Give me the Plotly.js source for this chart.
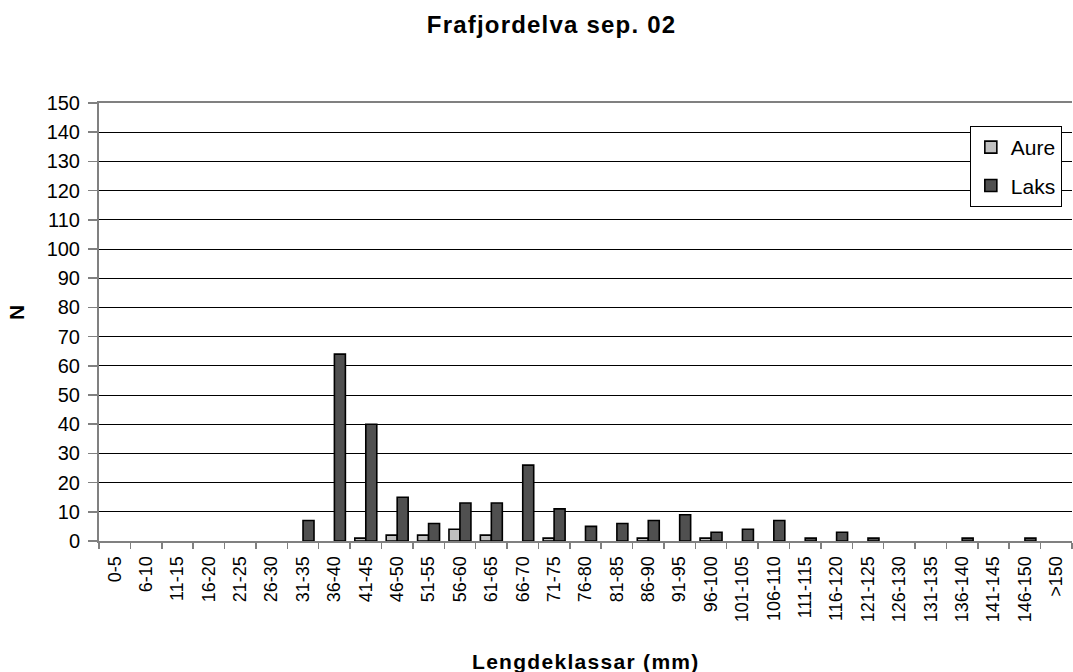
<!DOCTYPE html>
<html>
<head>
<meta charset="utf-8">
<script src="https://cdn.plot.ly/plotly-3.0.1.min.js"></script>
<style>
html,body{margin:0;padding:0;background:#fff;}
#chart{width:1073px;height:672px;}
.gtitle{letter-spacing:1.2px;}
.annotation-text{letter-spacing:1.3px;}
</style>
</head>
<body>
<div id="chart"></div>
<script>
var categories = ["0-5","6-10","11-15","16-20","21-25","26-30","31-35","36-40","41-45","46-50","51-55","56-60","61-65","66-70","71-75","76-80","81-85","86-90","91-95","96-100","101-105","106-110","111-115","116-120","121-125","126-130","131-135","136-140","141-145","146-150",">150"];
var aure = [0,0,0,0,0,0,0,0,1,2,2,4,2,0,1,0,0,1,0,1,0,0,0,0,0,0,0,0,0,0,0];
var laks = [0,0,0,0,0,0,7,64,40,15,6,13,13,26,11,5,6,7,9,3,4,7,1,3,1,0,0,1,0,1,0];
var yTicks = [0,10,20,30,40,50,60,70,80,90,100,110,120,130,140,150];

function hideZero(arr){ return arr.map(function(v){ return v === 0 ? null : v; }); }

var font = "Liberation Sans, Arial, sans-serif";
var traces = [
  {type:"bar", name:"Aure", legendgroup:"a", x:categories, y:hideZero(aure), marker:{color:"#c0c0c0", line:{color:"#000", width:1.6}}},
  {type:"bar", name:"Laks", legendgroup:"b", x:categories, y:hideZero(laks), marker:{color:"#505050", line:{color:"#000", width:1.6}}}
];
var layout = {
  width:1073, height:672,
  paper_bgcolor:"#fff", plot_bgcolor:"#fff",
  margin:{l:99, r:1, t:103, b:131},
  barmode:"group", bargap:0.3, bargroupgap:0,
  title:{text:"Frafjordelva sep. 02", font:{family:font, size:24, color:"#000", weight:"bold"}, xref:"container", x:0.514, xanchor:"center", yref:"container", y:0.964, yanchor:"middle"},
  showlegend:true,
  legend:{x:0.895, y:0.9475, xanchor:"left", yanchor:"top", bgcolor:"#fff", bordercolor:"#000", borderwidth:1,
    font:{family:font, size:21, color:"#000"}, traceorder:"grouped", tracegroupgap:8, itemwidth:30},
  xaxis:{type:"category", tickangle:-90, tickfont:{family:font, size:18, color:"#000"},
    ticks:"outside", ticklen:6, tickcolor:"#808080", tickwidth:1.5, tickson:"boundaries", ticklabelstandoff:6,
    showline:true, linecolor:"#808080", linewidth:2, mirror:true, showgrid:false, automargin:false},
  yaxis:{range:[0,150], tickvals:yTicks, ticktext:yTicks.map(String), tickfont:{family:font, size:20, color:"#000"},
    ticks:"outside", ticklen:9, tickcolor:"#808080", tickwidth:1.5, ticklabelstandoff:4,
    showline:true, linecolor:"#808080", linewidth:2,
    showgrid:true, gridcolor:"#000", gridwidth:1, zeroline:false, automargin:false},
  annotations:[
    {text:"Lengdeklassar (mm)", xref:"paper", yref:"paper", x:0.5, y:-0.274, xanchor:"center", yanchor:"middle", showarrow:false,
      font:{family:font, size:21, color:"#000", weight:"bold"}},
    {text:"N", xref:"paper", yref:"paper", x:-0.0843, y:0.523, xanchor:"center", yanchor:"middle", textangle:-90, showarrow:false,
      font:{family:font, size:21, color:"#000", weight:"bold"}}
  ]
};
Plotly.newPlot("chart", traces, layout, {displayModeBar:false, staticPlot:true});
</script>
</body>
</html>
